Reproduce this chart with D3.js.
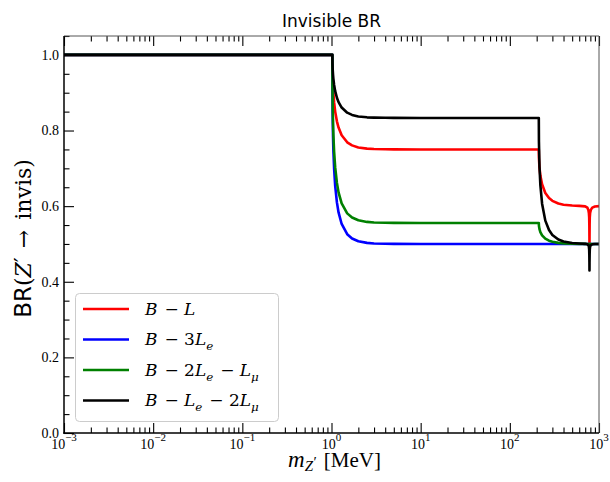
<!DOCTYPE html>
<html>
<head>
<meta charset="utf-8">
<script src="https://cdn.jsdelivr.net/npm/d3@7"></script>
<style>
  body { margin: 0; background: #fff; }
  svg text { white-space: pre; }
</style>
</head>
<body>
<svg width="610" height="482"></svg>
<script>
// mass grid in MeV (x values shared by all four curves)
const mass = [0.001, 0.5, 1.0, 1.022, 1.025, 1.03, 1.04, 1.05, 1.07, 1.1,
  1.15, 1.2, 1.3, 1.5, 1.7, 2, 2.5, 3, 4, 5,
  10, 50, 100, 211.3, 212, 215, 220, 230, 250, 275,
  300, 350, 400, 500, 600, 700, 740, 760, 770, 776,
  779, 781, 782, 783, 785, 788, 795, 810, 840, 900, 1000];

// BR(Z' -> invis)
const brBL = [1, 1, 1, 1, 0.9634, 0.9416, 0.916, 0.8987, 0.8744, 0.85,
  0.8243, 0.8077, 0.7876, 0.7689, 0.7607, 0.7553, 0.7521, 0.751, 0.7503, 0.7501,
  0.75, 0.75, 0.75, 0.75, 0.7281, 0.702, 0.6808, 0.6577, 0.6349, 0.6213,
  0.614, 0.607, 0.6039, 0.6015, 0.6007, 0.5995, 0.596, 0.59, 0.582, 0.57,
  0.55, 0.52, 0.5, 0.52, 0.55, 0.57, 0.582, 0.59, 0.596, 0.599, 0.6];

const brB3Le = [1, 1, 1, 1, 0.8977, 0.8432, 0.7843, 0.7474, 0.6988, 0.6538,
  0.6099, 0.5834, 0.5528, 0.5258, 0.5145, 0.5071, 0.5028, 0.5013, 0.5004, 0.5002,
  0.5, 0.5, 0.5, 0.5, 0.5, 0.5, 0.5, 0.5, 0.5, 0.5,
  0.5, 0.5, 0.5, 0.5, 0.5, 0.5, 0.5, 0.5, 0.5, 0.5,
  0.5, 0.5, 0.5, 0.5, 0.5, 0.5, 0.5, 0.5, 0.5, 0.5, 0.5];

const brB2LeLmu = [1, 1, 1, 1, 0.9164, 0.8705, 0.8197, 0.7872, 0.7436, 0.7024,
  0.6615, 0.6364, 0.6071, 0.5809, 0.5699, 0.5626, 0.5583, 0.5568, 0.556, 0.5557,
  0.5556, 0.5556, 0.5556, 0.5556, 0.5482, 0.5392, 0.5315, 0.5229, 0.5141, 0.5087,
  0.5058, 0.5029, 0.5016, 0.5006, 0.5003, 0.5001, 0.5, 0.5, 0.5, 0.5,
  0.5, 0.5, 0.5, 0.5, 0.5, 0.5, 0.5, 0.5, 0.5, 0.5, 0.5];

const brBLe2Lmu = [1, 1, 1, 1, 0.9777, 0.9641, 0.9479, 0.9367, 0.9206, 0.9042,
  0.8866, 0.875, 0.8607, 0.8472, 0.8412, 0.8373, 0.8349, 0.8342, 0.8336, 0.8334,
  0.8333, 0.8333, 0.8333, 0.8333, 0.7714, 0.7048, 0.6556, 0.6064, 0.5617, 0.5367,
  0.5239, 0.5118, 0.5066, 0.5026, 0.5012, 0.5003, 0.499, 0.497, 0.493, 0.485,
  0.47, 0.45, 0.43, 0.45, 0.47, 0.485, 0.493, 0.497, 0.499, 0.4998, 0.5];

const xTicks = [1e-3, 1e-2, 1e-1, 1e0, 1e1, 1e2, 1e3];
const xTickExp = ["\u22123", "\u22122", "\u22121", "0", "1", "2", "3"];
const yTicks = [0, 0.2, 0.4, 0.6, 0.8, 1.0];

// legend labels as [text, style] pieces
const labels = [
  [["B", "i"], [" \u2212 ", "r"], ["L", "i"]],
  [["B", "i"], [" \u2212 ", "r"], ["3", "r"], ["L", "i"], ["e", "isub"]],
  [["B", "i"], [" \u2212 ", "r"], ["2", "r"], ["L", "i"], ["e", "isub"], [" \u2212 ", "r"], ["L", "i"], ["\u03bc", "isub"]],
  [["B", "i"], [" \u2212 ", "r"], ["L", "i"], ["e", "isub"], [" \u2212 ", "r"], ["2", "r"], ["L", "i"], ["\u03bc", "isub"]]
];
const series = [brBL, brB3Le, brB2LeLmu, brBLe2Lmu];
const colors = ["#ff0000", "#0000ff", "#008000", "#000000"];

const svg = d3.select("svg");
const serif = "'Liberation Serif', 'DejaVu Serif', serif";
const dvSerif = "'DejaVu Serif', serif";

const mLeft = 64, mRight = 599, mTop = 36, mBottom = 433;

const x = d3.scaleLog().domain([1e-3, 1e3]).range([mLeft, mRight]);
const y = d3.scaleLinear().domain([0, 1.05]).range([mBottom, mTop]);

// minor ticks
const xMinor = [];
xTicks.slice(0, -1).forEach((d) => {
  for (let k = 2; k <= 9; k++) xMinor.push(d * k);
});
const yMinor = d3.range(0, 22).map((i) => i * 0.05).filter((v, i) => i % 4 !== 0);

// draw the curves (clipped)
svg.append("clipPath").attr("id", "clip")
  .append("rect")
  .attr("x", mLeft).attr("y", mTop)
  .attr("width", mRight - mLeft).attr("height", mBottom - mTop);

const line = d3.line()
  .x((d) => x(d[0]))
  .y((d) => y(d[1]));

svg.append("g")
  .attr("clip-path", "url(#clip)")
  .selectAll("path")
  .data(series)
  .join("path")
  .attr("d", (s) => line(d3.zip(mass, s)))
  .attr("fill", "none")
  .attr("stroke", (s, i) => colors[i])
  .attr("stroke-width", 2.6)
  .attr("stroke-linejoin", "round");

// axes, ticks pointing inward
const noDomain = (g) => g.select(".domain").remove();

svg.append("g")
  .attr("transform", `translate(0,${mBottom})`)
  .call(d3.axisBottom(x).tickValues(xTicks).tickSize(-10).tickFormat(""))
  .call(noDomain);
svg.append("g")
  .attr("transform", `translate(0,${mBottom})`)
  .call(d3.axisBottom(x).tickValues(xMinor).tickSize(-5.5).tickFormat(""))
  .call(noDomain);
svg.append("g")
  .attr("transform", `translate(0,${mTop})`)
  .call(d3.axisTop(x).tickValues(xTicks).tickSize(-10).tickFormat(""))
  .call(noDomain);
svg.append("g")
  .attr("transform", `translate(0,${mTop})`)
  .call(d3.axisTop(x).tickValues(xMinor).tickSize(-5.5).tickFormat(""))
  .call(noDomain);
svg.append("g")
  .attr("transform", `translate(${mLeft},0)`)
  .call(d3.axisLeft(y).tickValues(yTicks).tickSize(-10).tickFormat(""))
  .call(noDomain);
svg.append("g")
  .attr("transform", `translate(${mLeft},0)`)
  .call(d3.axisLeft(y).tickValues(yMinor).tickSize(-5.5).tickFormat(""))
  .call(noDomain);

svg.selectAll(".tick line").attr("stroke", "#000").attr("stroke-width", 1.1);

// spines
svg.append("line").attr("x1", mLeft).attr("x2", mRight).attr("y1", mTop).attr("y2", mTop)
  .attr("stroke", "#555").attr("stroke-width", 1);
svg.append("line").attr("x1", mRight).attr("x2", mRight).attr("y1", mTop).attr("y2", mBottom)
  .attr("stroke", "#555").attr("stroke-width", 1);
svg.append("line").attr("x1", mLeft).attr("x2", mLeft).attr("y1", mTop).attr("y2", mBottom + 0.75)
  .attr("stroke", "#000").attr("stroke-width", 1.5);
svg.append("line").attr("x1", mLeft - 0.75).attr("x2", mRight).attr("y1", mBottom).attr("y2", mBottom)
  .attr("stroke", "#000").attr("stroke-width", 1.5);

// tick labels
svg.append("g")
  .selectAll("text")
  .data(yTicks)
  .join("text")
  .attr("x", mLeft - 5)
  .attr("y", (d) => y(d))
  .attr("dy", "0.35em")
  .attr("text-anchor", "end")
  .attr("font-family", serif)
  .attr("font-size", 14)
  .text((d) => d.toFixed(1));

const xl = svg.append("g")
  .selectAll("text")
  .data(xTicks)
  .join("text")
  .attr("x", (d) => x(d))
  .attr("y", mBottom + 16)
  .attr("text-anchor", "middle")
  .attr("font-family", serif)
  .attr("font-size", 14);
xl.append("tspan").text("10");
xl.append("tspan").attr("font-size", 11).attr("dy", -8).text((d, i) => xTickExp[i]);

// rich text helper for the legend labels
const addParts = (t, parts, size) => {
  let shift = 0;
  parts.forEach(([s, st]) => {
    const sp = t.append("tspan").text(s);
    const sub = st === "isub" || st === "sub";
    const want = sub ? size * 0.3 : 0;
    if (want !== shift) { sp.attr("dy", want - shift); shift = want; }
    if (sub) sp.attr("font-size", size * 0.7);
    if (st === "i" || st === "isub") sp.attr("font-style", "italic");
    if (st === "r" && s.includes("\u2212")) sp.attr("dx", 1.5);
  });
};

// title
svg.append("text")
  .attr("x", (mLeft + mRight) / 2)
  .attr("y", 27)
  .attr("text-anchor", "middle")
  .attr("font-family", "'DejaVu Sans', sans-serif")
  .attr("font-size", 17)
  .text("Invisible BR");

// x label
const xt = svg.append("text")
  .attr("x", (mLeft + mRight) / 2 + 3)
  .attr("y", 467)
  .attr("text-anchor", "middle")
  .attr("font-family", serif)
  .attr("font-size", 21);
xt.append("tspan").attr("font-style", "italic").attr("font-size", 23).text("m");
xt.append("tspan").attr("font-style", "italic").attr("font-size", 15).attr("dy", 4).text("Z");
xt.append("tspan").attr("font-size", 15).attr("dy", -4).attr("dx", 0.5).text("\u2032");
xt.append("tspan").attr("dy", 0).attr("dx", 7).text("[MeV]");

// y label
const yt = svg.append("text")
  .attr("transform", `translate(31,${(mTop + mBottom) / 2 + 4}) rotate(-90)`)
  .attr("text-anchor", "middle")
  .attr("font-family", dvSerif)
  .attr("font-size", 22);
yt.append("tspan").attr("font-family", "'DejaVu Sans', sans-serif").attr("font-size", 23).text("BR");
yt.append("tspan").text("(");
yt.append("tspan").attr("font-style", "italic").text("Z");
yt.append("tspan").attr("dy", -1).attr("font-size", 22).text("\u2032");
yt.append("tspan").attr("dy", 1).attr("dx", 2).text(" \u2192 ");
yt.append("tspan").attr("dx", 3).text("invis)");

// legend
const lg = svg.append("g");
lg.append("rect")
  .attr("x", 75.5).attr("y", 293.5)
  .attr("width", 203).attr("height", 128)
  .attr("rx", 4)
  .attr("fill", "#fff").attr("fill-opacity", 0.8)
  .attr("stroke", "#ccc").attr("stroke-width", 1);

const rows = lg.selectAll("g.row")
  .data(labels)
  .join("g")
  .attr("class", "row")
  .attr("transform", (d, i) => `translate(0,${309 + i * 30.5})`);
rows.append("line")
  .attr("x1", 83).attr("x2", 129)
  .attr("stroke", (d, i) => colors[i])
  .attr("stroke-width", 2.6);
rows.append("text")
  .attr("x", 145)
  .attr("y", 5.5)
  .attr("font-family", dvSerif)
  .attr("font-size", 17)
  .each(function (d) { addParts(d3.select(this), d, 17); });
</script>
</body>
</html>
